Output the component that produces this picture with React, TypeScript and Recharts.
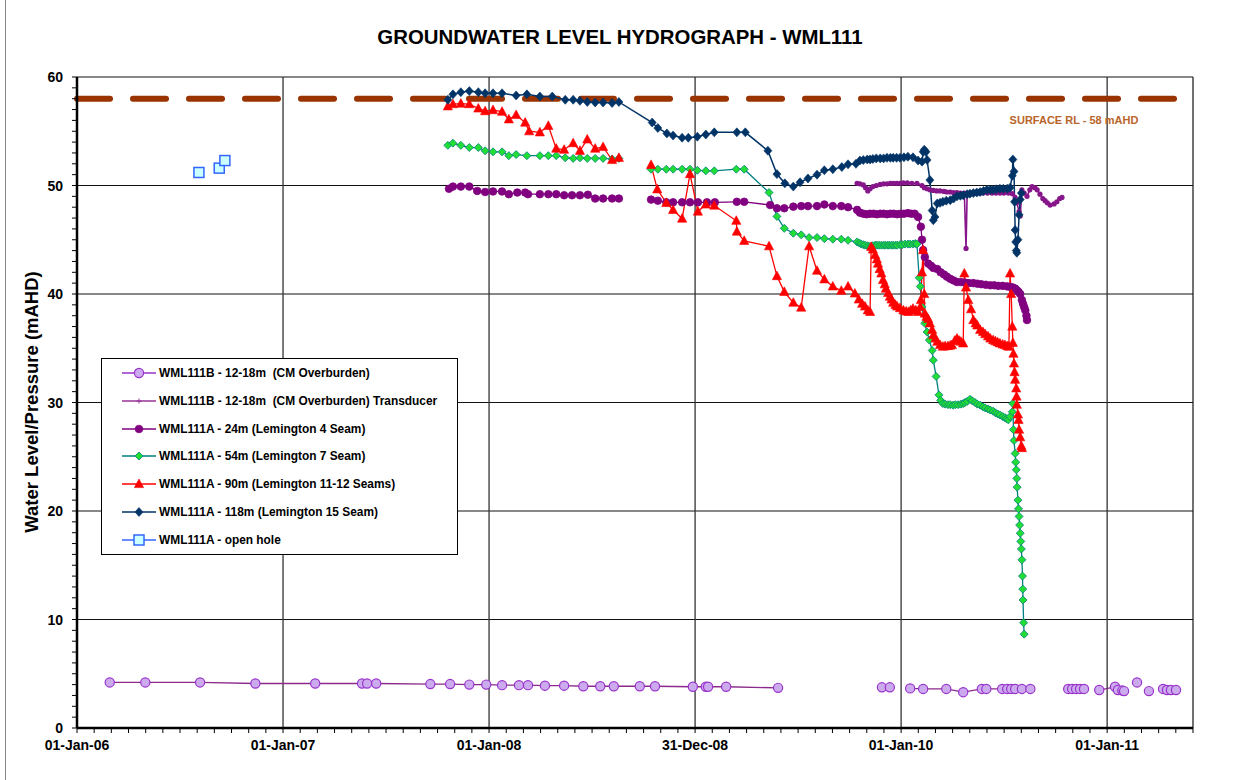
import React from 'react';
import { LineChart, Line, XAxis, YAxis, ReferenceLine } from 'recharts';

// x = days since 01-Jan-2006, y = water level (mAHD)
type Pt = [number, number] | null;

const chartTitle = 'GROUNDWATER LEVEL HYDROGRAPH - WML111';
const yAxisTitle = 'Water Level/Pressure (mAHD)';
const xTickLabels = ['01-Jan-06', '01-Jan-07', '01-Jan-08', '31-Dec-08', '01-Jan-10', '01-Jan-11'];
const yMajorTicks = [0, 10, 20, 30, 40, 50, 60];
const X_MAX = 1977.1;
const surfaceRL = 58;
const surfaceLabel = 'SURFACE RL - 58 mAHD';

const seriesNames = [
  'WML111B - 12-18m  (CM Overburden)',
  'WML111B - 12-18m  (CM Overburden) Transducer',
  'WML111A - 24m (Lemington 4 Seam)',
  'WML111A - 54m (Lemington 7 Seam)',
  'WML111A - 90m (Lemington 11-12 Seams)',
  'WML111A - 118m (Lemington 15 Seam)',
  'WML111A - open hole',
];

const wml111bManual: Pt[] = [
  [58, 4.2], [121, 4.2], [218, 4.2], [316, 4.1], [422, 4.1], [505, 4.1], [514, 4.1], [530, 4.1],
  [626, 4.05], [661, 4.05], [695, 4.0], [725, 4.0], [753, 3.95], [783, 3.95], [799, 3.95], [829, 3.9],
  [863, 3.9], [897, 3.85], [927, 3.85], [951, 3.85], [997, 3.85], [1024, 3.85], [1091, 3.8], [1114, 3.8],
  [1118, 3.8], [1150, 3.8], [1242, 3.7],
  null, [1426, 3.75], null, [1440, 3.75], null,
  [1476, 3.65], [1499, 3.6], [1540, 3.6], [1570, 3.3], [1603, 3.6], [1611, 3.6], [1639, 3.6], [1648, 3.6],
  [1655, 3.6], [1662, 3.6], [1674, 3.6], [1689, 3.6],
  null, [1756, 3.6], null, [1763, 3.6], null, [1770, 3.6], null, [1777, 3.6], null, [1784, 3.6], null,
  [1811, 3.5], [1839, 3.8], null, [1844, 3.5], null, [1852, 3.45], null, [1855, 3.4], null, [1878, 4.2], null,
  [1899, 3.4], null, [1924, 3.6], null, [1931, 3.5], null, [1938, 3.5], null, [1947, 3.5],
];

const wml111bTransducer: Pt[] = [
  [1382, 50.2], [1387, 50.15], [1393, 50.05], [1397, 49.8], [1401, 49.5], [1405, 49.7], [1410, 49.9],
  [1416, 50.0], [1423, 50.1], [1429, 50.15], [1435, 50.15], [1441, 50.2], [1446, 50.2], [1452, 50.2],
  [1458, 50.2], [1464, 50.25], [1471, 50.25], [1479, 50.2], [1488, 50.2], [1497, 50.0], [1501, 49.8],
  [1506, 49.7], [1511, 49.6], [1517, 49.55], [1523, 49.5], [1529, 49.5], [1536, 49.45], [1541, 49.4],
  [1547, 49.4], [1553, 49.35], [1559, 49.35], [1565, 49.3], [1572, 49.3], [1575, 44.2], [1577, 49.3],
  [1584, 49.3], [1591, 49.3], [1598, 49.3], [1605, 49.3], [1613, 49.3], [1621, 49.3], [1628, 49.3],
  [1635, 49.3], [1642, 49.3], [1650, 49.3], [1657, 49.25], [1662, 48.9], [1665, 48.4], [1669, 47.6],
  [1671, 47.2], [1674, 49.6], [1678, 49.3], [1683, 49.0], [1688, 49.6], [1692, 49.9], [1697, 49.8],
  [1701, 49.6], [1706, 49.2], [1711, 48.8], [1715, 48.6], [1719, 48.4], [1724, 48.2], [1731, 48.3],
  [1736, 48.5], [1741, 48.8], [1745, 48.9],
];

const wml111a24m: Pt[] = [
  [659, 49.7], [666, 49.9], [680, 49.9], [695, 49.9], [709, 49.5], [723, 49.4], [737, 49.45], [753, 49.45],
  [765, 49.2], [780, 49.35], [794, 49.35], [799, 49.2], [820, 49.2], [835, 49.2], [849, 49.2], [863, 49.1],
  [877, 49.1], [891, 49.1], [905, 49.15], [918, 48.8], [932, 48.8], [948, 48.8], [960, 48.8],
  null,
  [1017, 48.7], [1029, 48.6], [1044, 48.45], [1056, 48.45], [1072, 48.45], [1086, 48.45], [1100, 48.45],
  [1116, 48.45], [1130, 48.45], [1169, 48.5], [1182, 48.5], [1228, 48.2], [1240, 47.9], [1253, 47.9],
  [1269, 48.05], [1283, 48.1], [1295, 48.1], [1311, 48.1], [1324, 48.25], [1339, 48.1], [1354, 48.1],
  [1366, 48.0], [1382, 47.75], [1387, 47.5], [1393, 47.4], [1399, 47.35], [1405, 47.4], [1411, 47.4],
  [1417, 47.35], [1423, 47.4], [1429, 47.4], [1435, 47.35], [1441, 47.4], [1447, 47.4], [1453, 47.35],
  [1459, 47.4], [1465, 47.4], [1472, 47.45], [1478, 47.4], [1484, 47.4], [1490, 47.1], [1495, 46.2],
  [1497, 45.0], [1499, 44.05], [1502, 43.4], [1508, 42.8], [1513, 42.6], [1517, 42.4], [1524, 42.3],
  [1530, 42.0], [1536, 41.8], [1541, 41.6], [1547, 41.4], [1553, 41.25], [1559, 41.1], [1566, 41.1],
  [1573, 41.05], [1580, 41.0], [1588, 41.0], [1595, 40.95], [1602, 40.9], [1610, 40.85], [1618, 40.8],
  [1625, 40.8], [1632, 40.75], [1640, 40.75], [1648, 40.7], [1654, 40.65], [1658, 40.6], [1662, 40.5],
  [1665, 40.35], [1668, 40.2], [1671, 40.0], [1674, 39.45], [1676, 39.1], [1678, 38.8], [1680, 38.5],
  [1682, 38.0], [1683, 37.6],
];

const wml111a54m: Pt[] = [
  [657, 53.7], [666, 53.9], [680, 53.7], [695, 53.5], [711, 53.5], [723, 53.2], [737, 53.1], [753, 53.1],
  [765, 52.75], [778, 52.85], [797, 52.75], [820, 52.75], [835, 52.75], [849, 52.75], [865, 52.55],
  [879, 52.5], [891, 52.55], [904, 52.5], [918, 52.5], [932, 52.5], [948, 52.45], [960, 52.5],
  null,
  [1017, 51.5], [1029, 51.5], [1044, 51.5], [1056, 51.5], [1072, 51.5], [1086, 51.5], [1099, 51.4],
  [1114, 51.35], [1129, 51.35], [1168, 51.5], [1182, 51.5], [1226, 49.35], [1240, 47.15], [1253, 46.05],
  [1269, 45.6], [1283, 45.45], [1297, 45.2], [1311, 45.2], [1324, 45.1], [1339, 45.05], [1354, 45.05],
  [1366, 44.95], [1382, 44.8], [1386, 44.7], [1389, 44.6], [1393, 44.55], [1396, 44.5], [1400, 44.45],
  [1403, 44.4], [1407, 44.4], [1410, 44.45], [1414, 44.5], [1417, 44.5], [1421, 44.5], [1425, 44.5],
  [1429, 44.5], [1432, 44.5], [1436, 44.5], [1439, 44.5], [1443, 44.5], [1446, 44.5], [1450, 44.5],
  [1453, 44.5], [1458, 44.55], [1462, 44.55], [1467, 44.6], [1472, 44.6], [1476, 44.6], [1481, 44.6],
  [1485, 44.65], [1488, 44.6], [1492, 41.5], [1494, 40.7], [1497, 38.8], [1502, 37.3], [1506, 36.5],
  [1510, 35.75], [1515, 34.8], [1517, 33.9], [1522, 32.4], [1527, 30.7], [1530, 30.2], [1534, 29.9],
  [1538, 29.85], [1543, 29.8], [1547, 29.8], [1552, 29.75], [1556, 29.8], [1561, 29.8], [1566, 29.85],
  [1570, 29.9], [1573, 30.0], [1577, 30.1], [1582, 30.3], [1586, 30.15], [1591, 30.0], [1595, 29.85],
  [1600, 29.75], [1605, 29.6], [1609, 29.5], [1614, 29.4], [1618, 29.3], [1623, 29.2], [1627, 29.05],
  [1631, 28.95], [1635, 28.85], [1640, 28.7], [1644, 28.6], [1647, 28.5], [1650, 28.4], [1653, 28.7],
  [1657, 29.15], [1658, 29.9], [1659, 27.5], [1660, 26.5], [1662, 25.3], [1663, 24.5], [1664, 23.8],
  [1665, 23.0], [1665.5, 22.2], [1667, 21.0], [1668, 20.2], [1669, 19.5], [1670, 18.7], [1671, 17.95],
  [1672, 17.2], [1673, 16.5], [1674, 15.5], [1675, 14.0], [1675.5, 12.8], [1676, 11.8], [1677, 9.7],
  [1678, 8.65],
];

const wml111a90m: Pt[] = [
  [657, 57.3], [666, 57.5], [680, 57.55], [695, 57.5], [711, 57.1], [723, 56.85], [737, 56.95], [753, 56.8],
  [765, 56.1], [778, 56.5], [794, 55.8], [801, 55.0], [820, 54.9], [835, 55.5], [849, 53.4], [863, 53.3],
  [879, 53.9], [891, 53.2], [904, 54.25], [918, 53.4], [932, 53.55], [948, 52.35], [960, 52.55],
  null,
  [1017, 51.9], [1028, 49.65], [1044, 48.4], [1056, 47.75], [1072, 46.95], [1086, 51.05], [1100, 47.6],
  [1114, 48.25], [1129, 48.15], [1168, 46.75], [1169, 45.75], [1182, 44.9], [1226, 44.4], [1240, 41.65],
  [1253, 40.2], [1269, 39.2], [1283, 38.75], [1297, 44.4], [1311, 42.15], [1324, 41.35], [1339, 40.7],
  [1354, 40.3], [1366, 40.7], [1378, 40.05], [1385, 39.5], [1391, 39.1], [1396, 38.85], [1401, 38.5],
  [1405, 38.35], [1407, 44.35], [1410, 44.1], [1414, 43.6], [1417, 43.2], [1419, 42.8], [1422, 42.3],
  [1425, 41.9], [1428, 41.3], [1431, 40.9], [1433, 40.5], [1437, 40.1], [1440, 39.75], [1443, 39.5],
  [1446, 39.2], [1450, 39.0], [1453, 38.85], [1458, 38.7], [1464, 38.5], [1469, 38.4], [1473, 38.35],
  [1477, 38.5], [1481, 38.65], [1486, 38.5], [1490, 38.35], [1494, 38.8], [1495, 39.45], [1497, 42.0],
  [1499, 44.05], [1501, 40.0], [1502, 38.2], [1505, 37.9], [1508, 37.7], [1511, 37.3], [1515, 36.7],
  [1517, 36.2], [1521, 35.9], [1524, 35.6], [1529, 35.3], [1534, 35.15], [1538, 35.2], [1543, 35.2],
  [1547, 35.25], [1550, 35.3], [1555, 35.7], [1559, 35.9], [1563, 35.7], [1566, 35.6], [1570, 35.45],
  [1572, 41.9], [1575, 40.6], [1579, 39.45], [1584, 38.6], [1588, 37.6], [1592, 37.3], [1595, 37.1],
  [1600, 36.7], [1605, 36.5], [1609, 36.3], [1614, 36.1], [1618, 35.9], [1623, 35.75], [1627, 35.65],
  [1631, 35.55], [1635, 35.45], [1640, 35.35], [1644, 35.3], [1648, 35.2], [1651, 35.15], [1653, 41.9],
  [1655, 40.0], [1657, 37.0], [1658, 35.5], [1659, 34.5], [1660, 33.6], [1661, 32.8], [1662, 32.1],
  [1664, 31.3], [1664.5, 30.55], [1665, 29.8], [1667, 28.9], [1668, 28.4], [1669, 27.5], [1671, 26.8],
  [1673, 26.0], [1674, 25.8],
];

const wml111a118m: Pt[] = [
  [657, 57.9], [666, 58.4], [680, 58.6], [695, 58.7], [711, 58.6], [723, 58.5], [737, 58.5], [753, 58.5],
  [778, 58.3], [797, 58.4], [820, 58.2], [842, 58.2], [865, 57.9], [879, 57.9], [891, 57.8], [904, 57.7],
  [918, 57.65], [932, 57.65], [948, 57.6], [960, 57.7], [1019, 55.8], [1029, 55.3], [1045, 54.8],
  [1056, 54.6], [1072, 54.4], [1083, 54.4], [1099, 54.5], [1114, 54.7], [1129, 54.9], [1169, 54.9],
  [1184, 54.9], [1224, 53.2], [1240, 51.05], [1254, 50.2], [1269, 49.9], [1281, 50.3], [1295, 50.65],
  [1311, 51.0], [1324, 51.4], [1339, 51.5], [1355, 51.7], [1366, 51.95], [1380, 52.0], [1387, 52.3],
  [1393, 52.35], [1400, 52.4], [1405, 52.4], [1410, 52.45], [1416, 52.5], [1423, 52.5], [1429, 52.5],
  [1435, 52.55], [1441, 52.55], [1446, 52.55], [1452, 52.55], [1458, 52.55], [1465, 52.6], [1472, 52.65],
  [1481, 52.6], [1490, 52.3], [1497, 52.2], [1499, 53.1], [1501, 53.3], [1504, 53.1], [1506, 52.35],
  [1511, 50.5], [1515, 47.7], [1517, 46.8], [1520, 47.1], [1524, 48.35], [1529, 48.4], [1534, 48.5],
  [1540, 48.6], [1547, 48.65], [1553, 48.8], [1559, 49.0], [1565, 49.05], [1570, 49.1], [1577, 49.2],
  [1582, 49.25], [1588, 49.3], [1594, 49.35], [1600, 49.4], [1606, 49.5], [1612, 49.6], [1618, 49.6],
  [1623, 49.6], [1629, 49.65], [1635, 49.7], [1641, 49.7], [1648, 49.7], [1653, 49.8], [1657, 50.9],
  [1658, 52.4], [1660, 51.3], [1661, 48.5], [1662, 45.9], [1663, 44.8], [1664, 44.0], [1665, 43.8],
  [1667, 45.0], [1669, 47.3], [1671, 48.7], [1673, 49.3],
];

const wml111aOpenHole: Pt[] = [[216, 51.2], null, [252, 51.6], null, [262, 52.3]];

const xTicks: number[] = Array.from({ length: 66 }, (_, k) => (k * 365) / 12);
const yTicks: number[] = Array.from({ length: 61 }, (_, k) => k);

const toRows = (pts: Pt[]) => {
  let last = 0;
  return pts.map((p) => {
    if (p) {
      last = p[0];
      return { d: p[0], v: p[1] };
    }
    return { d: last, v: null as number | null };
  });
};

const FONT = "'Liberation Sans', Arial, sans-serif";

const COL = {
  manualLine: '#8B2A8B',
  manualStroke: '#9933CC',
  manualFill: '#CCAAEE',
  transducer: '#993399',
  transducerBand: '#86168A',
  s24: '#800080',
  s54: '#008080',
  s54Fill: '#22DD33',
  s90: '#FF0000',
  s118: '#003366',
  openStroke: '#3366FF',
  openFill: '#CCFFFF',
  surface: '#993300',
  surfaceText: '#B9652A',
};

const drawMarker = (kind: string, cx: number, cy: number, key?: any) => {
  switch (kind) {
    case 'manual':
      return <circle key={key} cx={cx} cy={cy} r={4.6} fill={COL.manualFill} stroke={COL.manualStroke} strokeWidth={1.2} />;
    case 'transducer':
      return (
        <g key={key}>
          <line x1={cx - 2.5} x2={cx + 2.5} y1={cy} y2={cy} stroke={COL.transducer} strokeWidth={1} />
          <line x1={cx} x2={cx} y1={cy - 2.5} y2={cy + 2.5} stroke={COL.transducer} strokeWidth={1} />
        </g>
      );
    case 'transducerPlot':
      return <circle key={key} cx={cx} cy={cy} r={2.6} fill={COL.transducerBand} stroke="none" />;
    case 's24':
      return <circle key={key} cx={cx} cy={cy} r={3.8} fill={COL.s24} stroke={COL.s24} strokeWidth={0.8} />;
    case 's54':
      return (
        <polygon key={key} points={`${cx},${cy - 4} ${cx + 4},${cy} ${cx},${cy + 4} ${cx - 4},${cy}`}
          fill={COL.s54Fill} stroke={COL.s54} strokeWidth={0.8} />
      );
    case 's90':
      return (
        <polygon key={key} points={`${cx},${cy - 5} ${cx + 4.6},${cy + 3.6} ${cx - 4.6},${cy + 3.6}`}
          fill={COL.s90} stroke={COL.s90} strokeWidth={0.6} />
      );
    case 's118':
      return (
        <polygon key={key} points={`${cx},${cy - 4.5} ${cx + 4},${cy} ${cx},${cy + 4.5} ${cx - 4},${cy}`}
          fill={COL.s118} stroke={COL.s118} strokeWidth={0.6} />
      );
    case 'open':
      return <rect key={key} x={cx - 5} y={cy - 5} width={10} height={10} fill={COL.openFill} stroke={COL.openStroke} strokeWidth={1.5} />;
    default:
      return <g key={key} />;
  }
};

const dotFn = (kind: string) => (p: any) => {
  const { cx, cy, index } = p;
  if (cx == null || cy == null || Number.isNaN(cy) || p.value == null || (Array.isArray(p.value) && p.value[1] == null)) {
    return <g key={`n-${kind}-${index}`} />;
  }
  return drawMarker(kind, cx, cy, `${kind}-${index}`);
};

const XTick = (props: any) => {
  const { x, y, payload } = props;
  const k = Math.round((payload.value * 12) / 365);
  if (k % 12 !== 0) return <g />;
  return (
    <text x={x} y={y + 15} textAnchor="middle" fontSize={14} fontWeight="bold" fontFamily={FONT} fill="#000">
      {xTickLabels[k / 12]}
    </text>
  );
};

const YTick = (props: any) => {
  const { x, y, payload } = props;
  if (payload.value % 10 !== 0) return <g />;
  return (
    <text x={x} y={y + 5} textAnchor="end" fontSize={14} fontWeight="bold" fontFamily={FONT} fill="#000">
      {payload.value}
    </text>
  );
};

const legendKinds = ['manual', 'transducer', 's24', 's54', 's90', 's118', 'open'];
const legendLineColors = [COL.manualStroke, COL.transducer, COL.s24, COL.s54, COL.s90, COL.s118, COL.openStroke];

const seriesDefs = [
  { data: wml111bManual, kind: 'manual', stroke: COL.manualLine, width: 1.3 },
  { data: wml111aOpenHole, kind: 'open', stroke: 'none', width: 1 },
  { data: wml111a24m, kind: 's24', stroke: COL.s24, width: 1.3 },
  { data: wml111bTransducer, kind: 'transducerPlot', stroke: COL.transducerBand, width: 1.6 },
  { data: wml111a54m, kind: 's54', stroke: COL.s54, width: 1.3 },
  { data: wml111a90m, kind: 's90', stroke: COL.s90, width: 1.3 },
  { data: wml111a118m, kind: 's118', stroke: COL.s118, width: 1.5 },
];

export default function App() {
  return (
    <div style={{ position: 'absolute', left: 0, top: 0, width: 1240, height: 780, background: '#fff', fontFamily: FONT }}>
      <div style={{ position: 'absolute', left: 5, top: 0, width: 1, height: 780, background: '#888' }} />
      <div style={{ position: 'absolute', left: 0, top: 25, width: 1240, textAlign: 'center', fontSize: 20.4, fontWeight: 'bold', lineHeight: '24px', color: '#000' }}>
        {chartTitle}
      </div>
      <div
        style={{
          position: 'absolute', left: 32, top: 402, width: 400, marginLeft: -200, marginTop: -10,
          transform: 'rotate(-90deg)', textAlign: 'center', fontSize: 18.5, fontWeight: 'bold', lineHeight: '20px', color: '#000',
        }}
      >
        {yAxisTitle}
      </div>
      <LineChart width={1240} height={780} margin={{ top: 77, right: 47, bottom: 12, left: 27 }}>
        <XAxis
          type="number" dataKey="d" domain={[0, X_MAX]} ticks={xTicks} interval={0} allowDataOverflow
          tick={<XTick />} tickSize={5} tickLine={{ stroke: '#000', strokeWidth: 1 }}
          axisLine={{ stroke: '#000', strokeWidth: 2.5 }} height={40}
        />
        <YAxis
          type="number" domain={[0, 60]} ticks={yTicks} interval={0} allowDataOverflow
          tick={<YTick />} tickSize={5} tickMargin={9} tickLine={{ stroke: '#000', strokeWidth: 1 }}
          axisLine={{ stroke: '#000', strokeWidth: 2.5 }} width={50}
        />
        {yMajorTicks.filter((v) => v > 0).map((v) => (
          <ReferenceLine key={`gy${v}`} y={v} stroke="#111" strokeWidth={1.2} />
        ))}
        {xTickLabels.map((_, i) => (i > 0 ? <ReferenceLine key={`gx${i}`} x={i * 365} stroke="#333" strokeWidth={1.3} /> : null))}
        <ReferenceLine x={X_MAX} stroke="#111" strokeWidth={1.2} />
        <ReferenceLine
          y={surfaceRL} stroke={COL.surface} strokeWidth={6} strokeDasharray="33 23" strokeLinecap="round"
          label={(p: any) => {
            const vb = p.viewBox || {};
            return (
              <text x={(vb.x ?? 77) + (vb.width ?? 1116) - 119} y={(vb.y ?? 99) + 25} textAnchor="middle"
                fontSize={11} fontWeight="bold" fontFamily={FONT} fill={COL.surfaceText}>
                {surfaceLabel}
              </text>
            );
          }}
        />
        {seriesDefs.map((s, i) => (
          <Line
            key={`s${i}`} data={toRows(s.data)} dataKey="v" type="linear" stroke={s.stroke} strokeWidth={s.width}
            dot={dotFn(s.kind)} activeDot={false} isAnimationActive={false} connectNulls={false}
          />
        ))}
      </LineChart>
      <div style={{ position: 'absolute', left: 101, top: 358, width: 355, height: 195, border: '1px solid #000', background: '#fff' }}>
        {seriesNames.map((name, i) => (
          <div key={name} style={{ position: 'absolute', left: 0, top: 14 + i * 27.8 - 8, height: 16, width: 355 }}>
            <svg width={40} height={16} style={{ position: 'absolute', left: 19, top: 0 }}>
              <line x1={1} x2={35} y1={8} y2={8} stroke={legendLineColors[i]} strokeWidth={1.5} />
              {drawMarker(legendKinds[i], 18, 8)}
            </svg>
            <span style={{ position: 'absolute', left: 57, top: 0, lineHeight: '16px', fontSize: 11.9, fontWeight: 'bold', whiteSpace: 'pre', color: '#000' }}>
              {name}
            </span>
          </div>
        ))}
      </div>
    </div>
  );
}
